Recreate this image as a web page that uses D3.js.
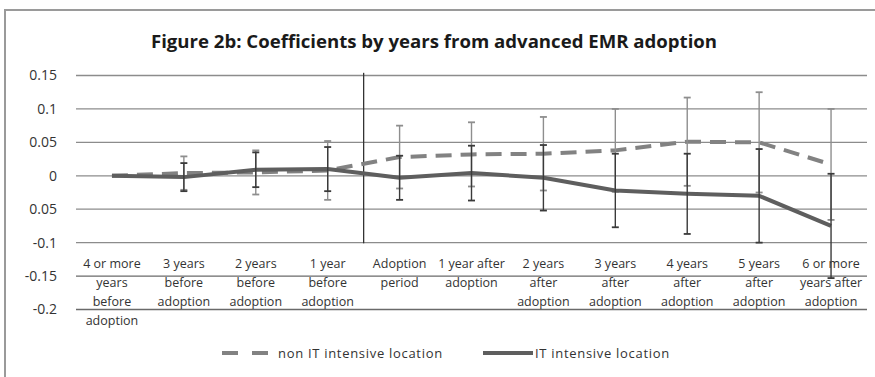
<!DOCTYPE html>
<html>
<head>
<meta charset="utf-8">
<script src="https://cdn.jsdelivr.net/npm/d3@7"></script>
<style>
  body { margin: 0; background: #fff; }
  svg { display: block; }
</style>
</head>
<body>
<div id="chart"></div>
<script>
// categories (x axis), one entry per line of the label
var categories = [
  ["4 or more", "years", "before", "adoption"],
  ["3 years", "before", "adoption"],
  ["2 years", "before", "adoption"],
  ["1 year", "before", "adoption"],
  ["Adoption", "period"],
  ["1 year after", "adoption"],
  ["2 years", "after", "adoption"],
  ["3 years", "after", "adoption"],
  ["4 years", "after", "adoption"],
  ["5 years", "after", "adoption"],
  ["6 or more", "years after", "adoption"]
];

// non IT intensive location
var nonItValues = [0, 0.004, 0.005, 0.008, 0.028, 0.032, 0.033, 0.038, 0.051, 0.050, 0.017];
var nonItErrors = [0, 0.025, 0.033, 0.044, 0.047, 0.048, 0.055, 0.062, 0.066, 0.075, 0.083];

// IT intensive location
var itValues = [0, -0.002, 0.009, 0.010, -0.003, 0.004, -0.003, -0.022, -0.027, -0.030, -0.075];
var itErrors = [0, 0.021, 0.026, 0.033, 0.033, 0.041, 0.049, 0.055, 0.060, 0.070, 0.078];

var tickValues = [0.15, 0.1, 0.05, 0, -0.05, -0.1, -0.15, -0.2];
var tickLabels = ["0.15", "0.1", "0.05", "0", "0.05", "-0.1", "-0.15", "-0.2"];

var seriesNames = ["non IT intensive location", "IT intensive location"];
var title = "Figure 2b: Coefficients by years from advanced EMR adoption";

var svgWidth = 875;
var svgHeight = 377;

var svg = d3.select("#chart")
  .append("svg")
  .attr("width", svgWidth)
  .attr("height", svgHeight)
  .style("font-family", "'Open Sans', sans-serif");

// outer chart frame
svg.append("rect")
  .attr("x", 5)
  .attr("y", 10)
  .attr("width", 900)
  .attr("height", 400)
  .attr("fill", "none")
  .attr("stroke", "#9a9a9a")
  .attr("stroke-width", 2);

svg.append("text")
  .attr("x", 434)
  .attr("y", 48)
  .attr("text-anchor", "middle")
  .attr("font-size", "18.6px")
  .attr("font-weight", "700")
  .attr("fill", "#1a1a1a")
  .text(title);

var xScale = d3.scalePoint()
  .domain(d3.range(categories.length))
  .range([76, 867])
  .padding(0.5);

var yScale = d3.scaleLinear()
  .domain([-0.2, 0.15])
  .range([309.5, 75.5]);

// gridlines
svg.append("g")
  .selectAll("line")
  .data(tickValues)
  .enter()
  .append("line")
  .attr("x1", 76)
  .attr("x2", 867)
  .attr("y1", d => yScale(d))
  .attr("y2", d => yScale(d))
  .attr("stroke", d => d < -0.12 ? "#6a6a6a" : "#8c8c8c")
  .attr("stroke-width", 1.3);

// y axis labels
var leftAxis = d3.axisLeft(yScale)
  .tickValues(tickValues)
  .tickFormat((d, i) => tickLabels[i])
  .tickSize(0)
  .tickPadding(0);

var yAxis = svg.append("g")
  .attr("transform", "translate(57,0)")
  .call(leftAxis);
yAxis.select(".domain").remove();
yAxis.selectAll("text")
  .attr("font-family", "'Open Sans', sans-serif")
  .attr("font-size", "14px")
  .attr("fill", "#333");

// category labels
var catLabels = svg.append("g")
  .selectAll("text")
  .data(categories)
  .enter()
  .append("text")
  .attr("text-anchor", "middle")
  .attr("font-size", "12.5px")
  .attr("fill", "#333");

catLabels.selectAll("tspan")
  .data((d, i) => d.map(t => ({ t: t, i: i })))
  .enter()
  .append("tspan")
  .attr("x", d => xScale(d.i))
  .attr("y", (d, j) => 268 + j * 18.9)
  .text(d => d.t);

// vertical marker between "1 year before" and "Adoption period"
var markX = (xScale(3) + xScale(4)) / 2;
svg.append("line")
  .attr("x1", markX)
  .attr("x2", markX)
  .attr("y1", yScale(0.154))
  .attr("y2", yScale(-0.101))
  .attr("stroke", "#333")
  .attr("stroke-width", 1.3);

function drawErrors(values, errors, color) {
  var g = svg.append("g");
  var rows = values.map((v, i) => ({ i: i, v: v, e: errors[i] })).filter(d => d.e > 0);
  g.selectAll(".stem")
    .data(rows)
    .enter()
    .append("line")
    .attr("x1", d => xScale(d.i))
    .attr("x2", d => xScale(d.i))
    .attr("y1", d => yScale(d.v + d.e))
    .attr("y2", d => yScale(d.v - d.e))
    .attr("stroke", color)
    .attr("stroke-width", 1.4);
  ["top", "bottom"].forEach(function(side) {
    g.selectAll(".cap-" + side)
      .data(rows)
      .enter()
      .append("line")
      .attr("x1", d => xScale(d.i) - 3.5)
      .attr("x2", d => xScale(d.i) + 3.5)
      .attr("y1", d => yScale(side == "top" ? d.v + d.e : d.v - d.e))
      .attr("y2", d => yScale(side == "top" ? d.v + d.e : d.v - d.e))
      .attr("stroke", color)
      .attr("stroke-width", 1.8);
  });
}

var line = d3.line()
  .x((d, i) => xScale(i))
  .y(d => yScale(d));

// non IT series
svg.append("path")
  .datum(nonItValues)
  .attr("d", line)
  .attr("fill", "none")
  .attr("stroke", "#828282")
  .attr("stroke-width", 4)
  .attr("stroke-linejoin", "round")
  .attr("stroke-dasharray", "16,9");
drawErrors(nonItValues, nonItErrors, "#8e8e8e");

// IT series
svg.append("path")
  .datum(itValues)
  .attr("d", line)
  .attr("fill", "none")
  .attr("stroke", "#5e5e5e")
  .attr("stroke-width", 4)
  .attr("stroke-linejoin", "round");
drawErrors(itValues, itErrors, "#3a3a3a");

// legend
var legend = svg.append("g");
legend.append("line")
  .attr("x1", 222).attr("x2", 268)
  .attr("y1", 353).attr("y2", 353)
  .attr("stroke", "#828282")
  .attr("stroke-width", 4)
  .attr("stroke-dasharray", "16,14");
legend.append("text")
  .attr("x", 278).attr("y", 357.5)
  .attr("font-size", "13px")
  .attr("letter-spacing", "0.7px")
  .attr("fill", "#333")
  .text(seriesNames[0]);
legend.append("line")
  .attr("x1", 483).attr("x2", 533)
  .attr("y1", 353).attr("y2", 353)
  .attr("stroke", "#5e5e5e")
  .attr("stroke-width", 4);
legend.append("text")
  .attr("x", 535).attr("y", 357.5)
  .attr("font-size", "13px")
  .attr("letter-spacing", "0.7px")
  .attr("fill", "#333")
  .text(seriesNames[1]);
</script>
</body>
</html>
